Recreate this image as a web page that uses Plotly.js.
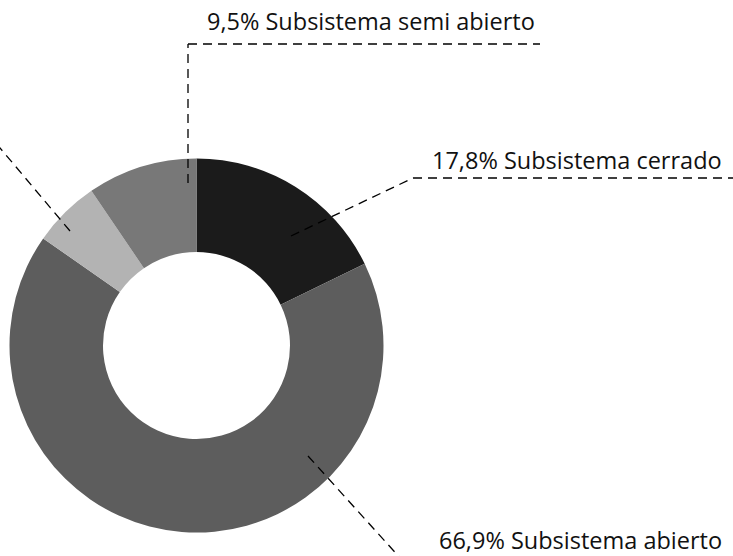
<!DOCTYPE html>
<html>
<head>
<meta charset="utf-8">
<script src="https://cdn.plot.ly/plotly-3.0.1.min.js"></script>
<style>html,body{margin:0;padding:0;background:#fff;}#chart{width:733px;height:556px;}</style>
</head>
<body>
<div id="chart"></div>
<script>
// Data
const categories = ["Subsistema cerrado", "Subsistema abierto", "Otro", "Subsistema semi abierto"];
const values = [17.8, 66.9, 5.8, 9.5];
const sliceColors = ["#1b1b1b", "#5d5d5d", "#b3b3b3", "#787878"];

const W = 733, H = 556;
const px = x => x / W;
const py = y => 1 - y / H;

const cx = 196.5, cy = 345.5, R = 187;

const fmt = v => v.toFixed(1).replace('.', ',') + '%';

const trace = {
  type: 'pie',
  values: values,
  labels: categories,
  marker: { colors: sliceColors, line: { width: 0 } },
  hole: 0.5,
  sort: false,
  direction: 'clockwise',
  rotation: 0,
  textinfo: 'none',
  hoverinfo: 'label+percent',
  showlegend: false,
  domain: { x: [px(cx - R), px(cx + R)], y: [py(cy + R), py(cy - R)] }
};

const dashStyle = { color: '#000', width: 1.3, dash: '9px,6px' };
function seg(x0, y0, x1, y1) {
  return { type: 'line', xref: 'paper', yref: 'paper', x0: px(x0), y0: py(y0), x1: px(x1), y1: py(y1), line: dashStyle, layer: 'above' };
}

const shapes = [
  // semi abierto
  seg(188, 183, 188, 44), seg(188, 44, 540, 44),
  // cerrado
  seg(291, 236, 413, 178), seg(413, 178, 733, 178),
  // abierto
  seg(308, 456, 402, 560),
  // light slice (label off-canvas)
  seg(70, 231, -5, 142)
];

const labelFont = { family: 'Open Sans, sans-serif', size: 23.5, color: '#111' };
function ann(i, x, y) {
  return { xref: 'paper', yref: 'paper', x: px(x), y: py(y), xanchor: 'left', yanchor: 'middle',
           text: fmt(values[i]) + ' ' + categories[i], showarrow: false, font: labelFont };
}
const annotations = [ann(3, 205, 21), ann(0, 430, 160), ann(1, 437, 540)];

const layout = {
  width: W, height: H,
  margin: { l: 0, r: 0, t: 0, b: 0 },
  paper_bgcolor: '#fff',
  plot_bgcolor: '#fff',
  shapes: shapes,
  annotations: annotations,
  showlegend: false
};

Plotly.newPlot('chart', [trace], layout, { displayModeBar: false, staticPlot: true });
</script>
</body>
</html>
